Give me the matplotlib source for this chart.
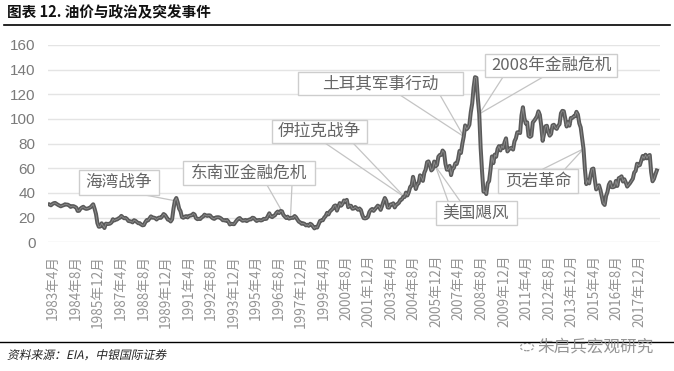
import matplotlib
matplotlib.use('Agg')
import matplotlib.pyplot as plt
import matplotlib.transforms as mtransforms
from matplotlib.patches import Rectangle, Circle, PathPatch
from matplotlib.lines import Line2D
from matplotlib.textpath import TextPath
from matplotlib.font_manager import FontProperties

plt.rcParams['font.family'] = ['Noto Sans CJK SC', 'DejaVu Sans']

# Monthly oil price (USD/bbl), 1983-04 ... 2019-03
prices_1983_1989 = [
    30.6, 30.0, 31.0, 31.7, 31.9, 31.1, 30.4, 29.8, 29.2,
    29.7, 30.1, 30.8, 30.6, 30.5, 29.8, 28.7, 29.3, 29.3, 28.8, 28.1, 25.4,
    25.6, 27.3, 28.2, 28.8, 27.6, 27.1, 27.3, 27.8, 28.3, 29.5, 30.8, 27.2,
    22.9, 15.5, 12.6, 12.8, 15.4, 13.5, 11.6, 15.1, 14.9, 14.9, 15.2, 16.1,
    18.7, 17.7, 18.3, 18.6, 19.4, 20.0, 21.4, 20.3, 19.5, 19.8, 18.9, 17.3,
    17.1, 16.8, 16.2, 17.9, 17.4, 16.5, 15.5, 15.5, 14.5, 13.8, 14.0, 16.3,
    18.0, 17.8, 19.4, 21.0, 20.0, 20.0, 19.6, 18.5, 19.6, 20.1, 19.8, 21.1,
]
prices_1990_1999 = [
    22.9, 22.1, 20.4, 18.4, 18.2, 16.9, 18.6, 27.2, 33.7, 35.9, 32.3, 27.3,
    25.2, 20.5, 19.9, 20.8, 21.2, 20.2, 21.4, 21.7, 21.9, 23.2, 22.5, 19.5,
    18.8, 19.0, 18.9, 20.2, 20.9, 22.4, 21.8, 21.4, 21.9, 21.7, 20.3, 19.4,
    19.0, 20.1, 20.3, 20.3, 19.9, 19.1, 17.9, 18.0, 17.5, 18.1, 16.7, 14.5,
    15.0, 14.8, 14.7, 16.4, 17.9, 19.1, 19.7, 18.4, 17.5, 17.7, 18.1, 17.2,
    18.0, 18.5, 18.6, 19.9, 19.7, 18.4, 17.3, 17.9, 18.1, 17.7, 18.0, 19.0,
    18.9, 19.1, 21.3, 23.5, 21.2, 20.4, 21.3, 21.9, 23.9, 24.9, 23.7, 25.4,
    25.1, 22.2, 21.0, 19.7, 20.8, 19.2, 19.6, 19.9, 19.8, 21.3, 20.2, 18.3,
    16.7, 16.1, 15.0, 15.4, 14.9, 13.7, 14.2, 13.4, 15.0, 14.4, 12.9, 11.3,
    12.5, 12.0, 14.7, 17.3, 17.8, 17.9, 20.1, 21.3, 23.9, 22.6, 25.0, 26.1,
]
prices_2000_2009 = [
    27.2, 29.4, 29.9, 25.7, 28.8, 31.8, 29.7, 31.2, 33.9, 33.1, 34.4, 28.5,
    29.6, 29.6, 27.2, 27.4, 28.6, 27.6, 26.4, 27.4, 26.2, 22.2, 19.6, 19.4,
    19.7, 20.7, 24.5, 26.2, 27.0, 25.5, 26.9, 28.4, 29.7, 28.9, 26.3, 29.4,
    32.9, 35.9, 33.6, 28.3, 28.1, 30.7, 30.8, 31.6, 28.3, 30.3, 31.1, 32.1,
    34.3, 34.7, 36.7, 36.7, 40.3, 38.0, 40.7, 44.9, 45.9, 53.1, 48.5, 43.2,
    46.8, 48.0, 54.3, 53.0, 49.8, 56.4, 59.0, 65.0, 65.6, 62.4, 58.3, 59.4,
    65.5, 61.6, 62.7, 69.4, 70.8, 70.9, 74.4, 73.0, 63.8, 58.9, 59.1, 62.0,
    54.5, 59.3, 60.4, 64.0, 63.5, 67.5, 74.1, 72.4, 79.9, 85.8, 94.8, 91.7,
    93.0, 95.4, 105.5, 112.6, 125.4, 133.9, 133.4, 116.7, 104.1, 76.6, 57.3, 41.1,
    41.7, 39.1, 47.9, 49.7, 59.0, 69.6, 64.2, 71.1, 69.4, 75.7, 78.0, 74.5,
]
prices_2010_2019 = [
    78.3, 76.4, 81.2, 84.3, 73.7, 75.3, 76.3, 76.6, 75.2, 81.9, 84.3, 89.2,
    89.2, 88.6, 102.9, 109.5, 100.9, 96.3, 97.3, 86.3, 85.5, 86.3, 97.2, 98.6,
    100.3, 102.2, 106.2, 103.3, 94.7, 82.3, 87.9, 94.1, 94.5, 89.5, 86.5, 87.9,
    94.8, 95.3, 92.9, 92.0, 94.5, 95.8, 104.6, 106.6, 106.3, 100.5, 93.9, 97.6,
    94.6, 100.8, 100.8, 102.1, 102.2, 105.8, 103.6, 96.5, 93.2, 84.4, 75.8, 59.3,
    47.2, 50.6, 47.8, 54.5, 59.3, 59.8, 50.9, 42.9, 45.5, 46.2, 42.4, 37.2,
    31.7, 30.3, 37.6, 40.8, 46.7, 48.8, 44.7, 44.7, 45.2, 49.8, 45.7, 52.0,
    52.5, 53.5, 49.3, 51.1, 48.5, 45.2, 46.6, 48.0, 49.8, 51.6, 56.6, 57.9,
    63.7, 62.2, 62.7, 66.3, 70.0, 67.9, 71.0, 68.1, 70.2, 70.8, 57.0, 49.5,
    51.4, 55.0, 58.2,
]
prices = prices_1983_1989 + prices_1990_1999 + prices_2000_2009 + prices_2010_2019

start_year, start_month = 1983, 4
months = [f"{start_year + (start_month - 1 + i) // 12}年{(start_month - 1 + i) % 12 + 1}月"
          for i in range(len(prices))]
label_step = 16
tick_idx = list(range(0, len(prices), label_step))
tick_labels = [months[i] for i in tick_idx]

# annotations: text, box center (px), box size (px), leader-line starts (px), target month index
annotations = [
    ("海湾战争", (119, 182.5), (80, 25), [(145, 195)], [89]),
    ("东南亚金融危机", (249, 173), (132, 24), [(267, 185), (292, 185)], [165, 171]),
    ("伊拉克战争", (319.5, 131.5), (95, 23), [(325, 143), (353, 143)], [252, 252]),
    ("土耳其军事行动", (380.5, 83.5), (165, 23), [(400, 95), (440, 95)], [294, 294]),
    ("2008年金融危机", (551, 65.5), (132, 23), [(503, 77), (543, 77)], [305, 305]),
    ("美国飓风", (476, 213), (81, 24), [(448, 201), (460, 201)], [274, 274]),
    ("页岩革命", (538, 181), (80, 24), [(543, 169), (565, 169)], [379, 379]),
]

W, H = 674, 371
fig = plt.figure(figsize=(W / 100, H / 100), dpi=100)
fig.patch.set_facecolor('white')
ax_left, ax_right, ax_top, ax_bottom = 48, 660, 45, 242.3
ax = fig.add_axes([ax_left / W, 1 - ax_bottom / H, (ax_right - ax_left) / W, (ax_bottom - ax_top) / H])
px_per_idx = 1.409
xl = -1.5 / px_per_idx
ax.set_xlim(xl, xl + (ax_right - ax_left) / px_per_idx)
ax.set_ylim(0, 160)

for s in ax.spines.values():
    s.set_visible(False)
ax.set_yticks(range(0, 161, 20))
ax.yaxis.grid(True, color='#e4e4e4', lw=1.0)
ax.set_axisbelow(True)
ax.tick_params(axis='both', length=0)
ax.tick_params(axis='y', pad=9)
for t in ax.get_yticklabels():
    t.set_fontfamily(['Liberation Sans', 'DejaVu Sans'])
    t.set_fontsize(11)
    t.set_color('#7a7a7a')

ax.set_xticks(tick_idx)
ax.set_xticklabels(tick_labels, rotation=90, fontsize=9.8, color='#959595', fontweight='light')
ax.tick_params(axis='x', pad=9)
offset = mtransforms.ScaledTranslation(3.5 / 100, 0, fig.dpi_scale_trans)
for t in ax.get_xticklabels():
    t.set_transform(t.get_transform() + offset)

x = list(range(len(prices)))
ax.plot(x, prices, color='#5a5a5a', lw=2.9, solid_joinstyle='round', zorder=3)
ax.plot(x, prices, color='#8e8e8e', lw=0.6, zorder=3.1)

def px2data(px, py):
    return ax.transData.inverted().transform((px, H - py))

px_per_val = (ax_bottom - ax_top) / 160
for text, (cx, cy), (bw, bh), starts, targets in annotations:
    for (sx, sy), ti in zip(starts, targets):
        d0 = px2data(sx, sy)
        ax.plot([d0[0], x[ti]], [d0[1], prices[ti]], color='#c4c4c4', lw=0.9, zorder=2.5)
    c = px2data(cx, cy)
    ax.add_patch(Rectangle((c[0] - bw / 2 / px_per_idx, c[1] - bh / 2 / px_per_val),
                           bw / px_per_idx, bh / px_per_val,
                           facecolor='white', edgecolor='#cdcdcd', lw=1.0, zorder=4))
    ax.text(c[0], c[1], text, ha='center', va='center', fontsize=12,
            color='#666666', fontweight='light', zorder=5)

# title & rules
fig.text(7 / W, 1 - 12 / H, "图表 12. 油价与政治及突发事件", fontsize=10.5,
         fontweight='bold', va='center', ha='left', color='#111111')
fig.add_artist(Line2D([4 / W, 670 / W], [1 - 25 / H] * 2, color='black', lw=1.2))
fig.add_artist(Line2D([0, 1], [1 - 341.7 / H] * 2, color='black', lw=1.0))

# italic (slanted) source note
src_prop = FontProperties(family='Noto Sans CJK SC', size=11.8)
tp = TextPath((0, 0), "资料来源：EIA，中银国际证券", prop=src_prop)
slant = mtransforms.Affine2D().skew_deg(12, 0).translate(7, H - 359)
fig.add_artist(PathPatch(slant.transform_path(tp), transform=mtransforms.IdentityTransform(),
                         facecolor='#222222', edgecolor='none'))

# watermark
fig.add_artist(Circle((527 / W, 1 - 347 / H), 0.010, transform=fig.transFigure,
                      facecolor='white', edgecolor='#999999', lw=0.9, ls=(0, (2, 1.5))))
fig.text(596 / W, 1 - 347 / H, "朱启兵宏观研究", fontsize=12, color='#8a8a8a',
         va='center', ha='center', alpha=0.9)

fig.savefig('out.png', dpi=100)
